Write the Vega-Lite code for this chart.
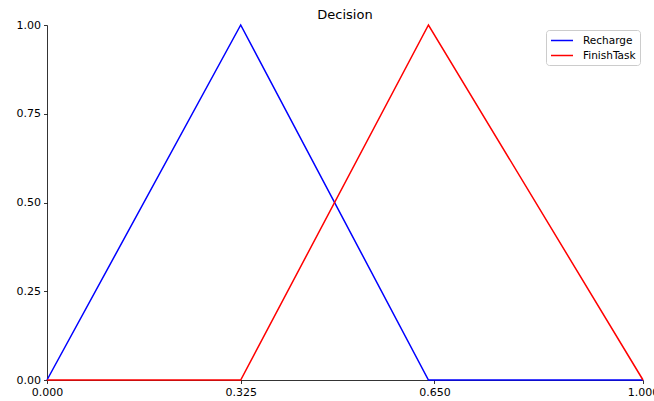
{
  "$schema": "https://vega.github.io/schema/vega-lite/v6.json",
  "width": 596,
  "height": 355,
  "autosize": {"type": "none"},
  "padding": {"left": 47, "top": 25, "right": 11, "bottom": 21},
  "background": "white",
  "title": {"text": "Decision", "font": "DejaVu Sans", "fontSize": 13, "fontWeight": "normal", "color": "black", "offset": -3, "anchor": "middle", "frame": "group"},
  "config": {
    "view": {"stroke": null},
    "font": "DejaVu Sans",
    "axis": {"grid": false, "domainColor": "black", "domainWidth": 0.8, "tickColor": "black", "tickWidth": 0.8, "tickSize": 3.5, "labelFont": "DejaVu Sans", "labelFontSize": 11, "labelColor": "black", "labelPadding": 3, "title": null}
  },
  "data": {"values": [
    {"x": 0, "y": 0, "s": "Recharge"},
    {"x": 0.325, "y": 1, "s": "Recharge"},
    {"x": 0.64, "y": 0, "s": "Recharge"},
    {"x": 1.0, "y": 0, "s": "Recharge"},
    {"x": 0, "y": 0, "s": "FinishTask"},
    {"x": 0.325, "y": 0, "s": "FinishTask"},
    {"x": 0.64, "y": 1, "s": "FinishTask"},
    {"x": 1.0, "y": 0, "s": "FinishTask"}
  ]},
  "encoding": {
    "x": {"field": "x", "type": "quantitative", "scale": {"domain": [0, 1], "nice": false, "zero": false},
      "axis": {"values": [0, 0.325, 0.65, 1.0], "format": ".3f", "labelFlush": false, "labelBound": false, "labelOverlap": false}},
    "y": {"field": "y", "type": "quantitative", "scale": {"domain": [0, 1], "nice": false},
      "axis": {"values": [0, 0.25, 0.5, 0.75, 1.0], "format": ".2f", "labelFlush": false, "labelBound": false, "labelOverlap": false}},
    "color": {"field": "s", "type": "nominal", "scale": {"domain": ["Recharge", "FinishTask"], "range": ["#0000ff", "#ff0000"]},
      "legend": {"title": null, "orient": "none", "legendX": 499, "legendY": 5, "symbolType": "M-1,0H3", "symbolSize": 121, "symbolStrokeWidth": 1.5, "symbolFillColor": "transparent",
        "labelFont": "DejaVu Sans", "labelFontSize": 10.5, "labelColor": "black", "labelOffset": 20, "rowPadding": 3,
        "padding": 4, "strokeColor": "#cccccc", "cornerRadius": 3, "fillColor": "white"}}
  },
  "layer": [
    {"transform": [{"filter": "datum.s === 'Recharge'"}], "mark": {"type": "line", "strokeWidth": 1.5, "clip": false}},
    {"transform": [{"filter": "datum.s === 'FinishTask'"}], "mark": {"type": "line", "strokeWidth": 1.5, "clip": false}}
  ]
}
